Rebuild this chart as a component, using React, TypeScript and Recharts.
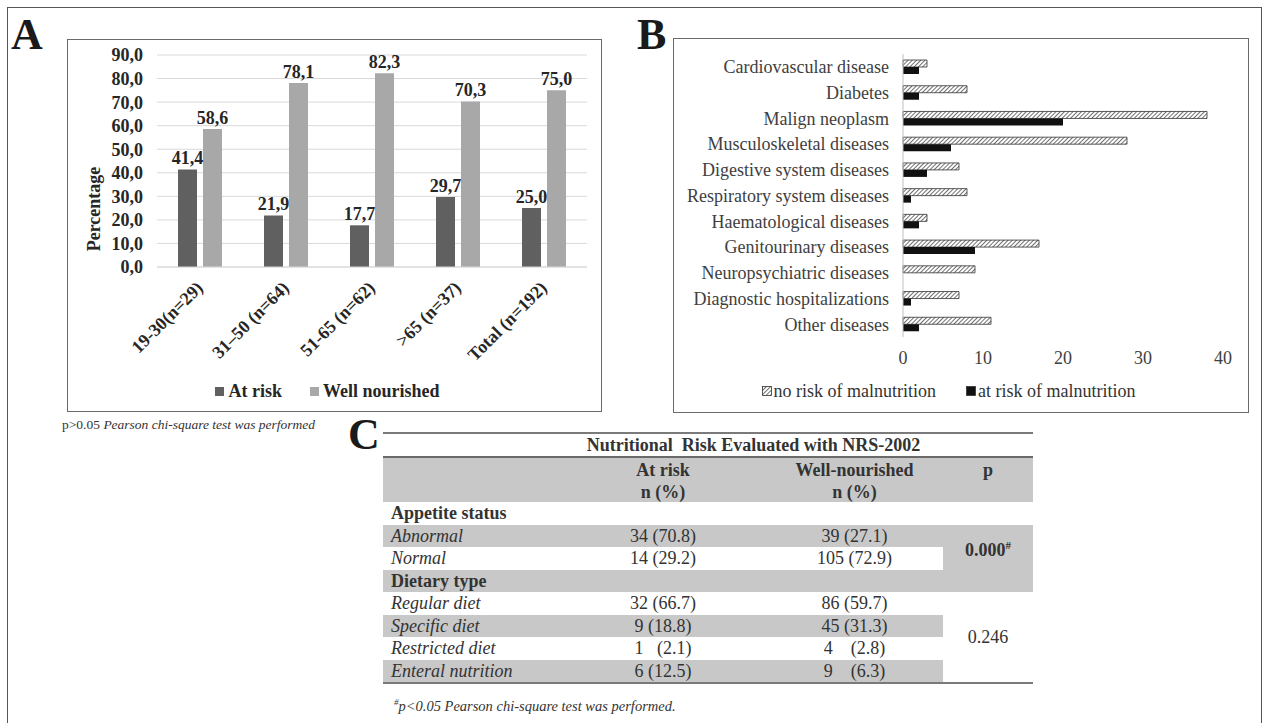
import { BarChart, Bar, XAxis, YAxis, CartesianGrid, Legend, LabelList, Label } from "recharts"

const SERIF = "'Liberation Serif', 'Times New Roman', serif"

// Panel A – nutritional risk by age group (%)
const ageGroups = ["19-30(n=29)", "31–50 (n=64)", "51-65 (n=62)", ">65 (n=37)", "Total (n=192)"]
const atRiskPct = [41.4, 21.9, 17.7, 29.7, 25.0]
const wellNourishedPct = [58.6, 78.1, 82.3, 70.3, 75.0]
const pctTicks = [0, 10, 20, 30, 40, 50, 60, 70, 80, 90]

// Panel B – diagnoses by risk status (n)
const diseases = [
    "Cardiovascular disease",
    "Diabetes",
    "Malign neoplasm",
    "Musculoskeletal diseases",
    "Digestive system diseases",
    "Respiratory system diseases",
    "Haematological diseases",
    "Genitourinary diseases",
    "Neuropsychiatric diseases",
    "Diagnostic hospitalizations",
    "Other diseases",
]
const noRiskCounts = [3, 8, 38, 28, 7, 8, 3, 17, 9, 7, 11]
const atRiskCounts = [2, 2, 20, 6, 3, 1, 2, 9, 0, 1, 2]
const countTicks = [0, 10, 20, 30, 40]
const legendOrderB = ["no risk of malnutrition", "at risk of malnutrition"]

// Panel C – table
const appetiteLabels = ["Abnormal", "Normal"]
const appetiteAtRisk = ["34 (70.8)", "14 (29.2)"]
const appetiteWell = ["39 (27.1)", "105 (72.9)"]
const dietLabels = ["Regular diet", "Specific diet", "Restricted diet", "Enteral nutrition"]
const dietAtRisk = ["32 (66.7)", "9 (18.8)", "1\u00a0\u00a0\u00a0(2.1)", "6 (12.5)"]
const dietWell = ["86 (59.7)", "45 (31.3)", "4\u00a0\u00a0\u00a0\u00a0(2.8)", "9\u00a0\u00a0\u00a0\u00a0(6.3)"]
const pAppetite = "0.000"
const pDiet = "0.246"

const dataA = ageGroups.map((g, i) => ({ group: g, atRisk: atRiskPct[i], well: wellNourishedPct[i] }))
const dataB = diseases.map((d, i) => ({ name: d, noRisk: noRiskCounts[i], atRisk: atRiskCounts[i] }))

const pctFmt = (v: any) => Number(v).toFixed(1).replace(".", ",")

function AgeTick({ x, y, payload }: any) {
    return (
        <g transform={`translate(${x + 4},${y + 22}) rotate(-45)`}>
            <text textAnchor="end" fontFamily={SERIF} fontWeight="bold" fontSize={18} fill="#262626">
                {payload.value}
            </text>
        </g>
    )
}

function LegendA({ payload }: any) {
    return (
        <div style={{ display: "flex", justifyContent: "center", alignItems: "center", gap: 28, height: 22, fontFamily: SERIF, fontWeight: "bold", fontSize: 18, color: "#262626" }}>
            {(payload || []).map((p: any) => (
                <span key={p.value} style={{ display: "flex", alignItems: "center" }}>
                    <span style={{ width: 9, height: 9, background: p.color, marginRight: 4, display: "inline-block" }} />
                    {p.value}
                </span>
            ))}
        </div>
    )
}

function LegendB({ payload }: any) {
    const items = [...(payload || [])].sort((a: any, b: any) => legendOrderB.indexOf(a.value) - legendOrderB.indexOf(b.value))
    return (
        <div style={{ display: "flex", justifyContent: "center", alignItems: "center", gap: 30, height: 22, fontFamily: SERIF, fontSize: 18, color: "#333" }}>
            {items.map((p: any) => (
                <span key={p.value} style={{ display: "flex", alignItems: "center" }}>
                    <svg width={10} height={10} style={{ marginRight: 2 }}>
                        <rect x={0.5} y={0.5} width={9} height={9} fill={p.color} stroke="#333" strokeWidth={0.8} />
                    </svg>
                    {p.value}
                </span>
            ))}
        </div>
    )
}

function PanelA() {
    return (
        <div style={{ position: "absolute", left: 67, top: 39, width: 535, height: 373, border: "1px solid #6a6a6a", boxSizing: "border-box" }}>
            <BarChart width={533} height={371} data={dataA} margin={{ top: 15, right: 14, left: 0, bottom: 9 }} barGap={6} barSize={19}>
                <CartesianGrid vertical={false} stroke="#d9d9d9" />
                <XAxis dataKey="group" height={113} interval={0} tick={<AgeTick />} tickLine={false} tickSize={0} tickMargin={0} axisLine={{ stroke: "#d9d9d9" }} />
                <YAxis
                    width={89}
                    domain={[0, 90]}
                    ticks={pctTicks}
                    interval={0}
                    tickFormatter={pctFmt}
                    axisLine={false}
                    tickLine={false}
                    tickSize={0}
                    tickMargin={14}
                    tick={{ fontFamily: SERIF, fontWeight: "bold", fontSize: 18, fill: "#262626" }}
                >
                    <Label
                        content={({ viewBox }: any) => {
                            const cx = viewBox.x + 26
                            const cy = viewBox.y + viewBox.height / 2 + 48
                            return (
                                <text x={cx} y={cy} transform={`rotate(-90, ${cx}, ${cy})`} textAnchor="middle" dominantBaseline="central" fontFamily={SERIF} fontWeight="bold" fontSize={18} fill="#262626">
                                    Percentage
                                </text>
                            )
                        }}
                    />
                </YAxis>
                <Legend verticalAlign="bottom" content={<LegendA />} />
                <Bar dataKey="atRisk" name="At risk" fill="#606060" isAnimationActive={false}>
                    <LabelList dataKey="atRisk" position="top" formatter={pctFmt} style={{ fontFamily: SERIF, fontWeight: "bold", fontSize: 18, fill: "#262626" }} />
                </Bar>
                <Bar dataKey="well" name="Well nourished" fill="#a8a8a8" isAnimationActive={false}>
                    <LabelList dataKey="well" position="top" formatter={pctFmt} style={{ fontFamily: SERIF, fontWeight: "bold", fontSize: 18, fill: "#262626" }} />
                </Bar>
            </BarChart>
        </div>
    )
}

function PanelB() {
    return (
        <div style={{ position: "absolute", left: 673, top: 38, width: 576, height: 375, border: "1px solid #6a6a6a", boxSizing: "border-box" }}>
            <BarChart layout="vertical" width={574} height={373} data={dataB} margin={{ top: 15, right: 25, left: 0, bottom: 10 }} barGap={0} barSize={7}>
                <defs>
                    <pattern id="hatchB" patternUnits="userSpaceOnUse" width={3} height={3} patternTransform="rotate(45)">
                        <rect width={3} height={3} fill="#ffffff" />
                        <line x1={0} y1={0} x2={0} y2={3} stroke="#222" strokeWidth={1.3} />
                    </pattern>
                </defs>
                <XAxis type="number" domain={[0, 40]} ticks={countTicks} height={43} axisLine={false} tickLine={false} tickSize={0} tickMargin={14} tick={{ fontFamily: SERIF, fontSize: 18, fill: "#404040" }} />
                <YAxis type="category" dataKey="name" width={229} interval={0} axisLine={{ stroke: "#c0c0c0" }} tickLine={false} tickSize={0} tickMargin={14} tick={{ fontFamily: SERIF, fontSize: 18, fill: "#404040" }} />
                <Legend verticalAlign="bottom" content={<LegendB />} />
                <Bar dataKey="noRisk" name="no risk of malnutrition" fill="url(#hatchB)" stroke="#333" strokeWidth={0.8} isAnimationActive={false} />
                <Bar dataKey="atRisk" name="at risk of malnutrition" fill="#111111" isAnimationActive={false} />
            </BarChart>
        </div>
    )
}

const COLS = [383, 560, 766, 943, 1033]
const GRAY = "#c8c8c8"

function Cell({ c0, c1, y, h, gray, children, align = "center", style }: any) {
    return (
        <div
            style={{
                position: "absolute",
                left: COLS[c0],
                width: COLS[c1] - COLS[c0],
                top: y,
                height: h,
                background: gray ? GRAY : "transparent",
                display: "flex",
                alignItems: "center",
                justifyContent: align === "left" ? "flex-start" : "center",
                paddingLeft: align === "left" ? 8 : 0,
                boxSizing: "border-box",
                whiteSpace: "pre",
                ...style,
            }}
        >
            {children}
        </div>
    )
}

function PanelC() {
    const rows: { label: string; a: string; w: string; section: boolean }[] = [
        { label: "Appetite status", a: "", w: "", section: true },
        ...appetiteLabels.map((l, i) => ({ label: l, a: appetiteAtRisk[i], w: appetiteWell[i], section: false })),
        { label: "Dietary type", a: "", w: "", section: true },
        ...dietLabels.map((l, i) => ({ label: l, a: dietAtRisk[i], w: dietWell[i], section: false })),
    ]
    const y0 = 502
    const rh = 22.5
    return (
        <div style={{ position: "absolute", left: 0, top: 0, fontFamily: SERIF, fontSize: 18, color: "#333", lineHeight: "20px" }}>
            <div style={{ position: "absolute", left: 348, top: 413, fontSize: 44, fontWeight: "bold", color: "#1a1a1a", lineHeight: "44px" }}>C</div>
            <div style={{ position: "absolute", left: COLS[0], width: COLS[4] - COLS[0], top: 432, height: 2, background: "#7a7a7a" }} />
            <Cell c0={1} c1={3} y={434} h={22} style={{ fontWeight: "bold", paddingLeft: 4 }}>
                Nutritional  Risk Evaluated with NRS-2002
            </Cell>
            <div style={{ position: "absolute", left: COLS[0], width: COLS[4] - COLS[0], top: 456, height: 2, background: "#6a6a6a" }} />
            <Cell c0={0} c1={4} y={458} h={44} gray />
            <Cell c0={1} c1={2} y={459} h={22} style={{ fontWeight: "bold" }}>At risk</Cell>
            <Cell c0={1} c1={2} y={481} h={22} style={{ fontWeight: "bold" }}>n (%)</Cell>
            <Cell c0={2} c1={3} y={459} h={22} style={{ fontWeight: "bold" }}>Well-nourished</Cell>
            <Cell c0={2} c1={3} y={481} h={22} style={{ fontWeight: "bold" }}>n (%)</Cell>
            <Cell c0={3} c1={4} y={459} h={22} style={{ fontWeight: "bold" }}>p</Cell>
            {rows.map((r, i) => {
                const y = y0 + i * rh
                const gray = i % 2 === 1
                const pGray = i >= 1 && i <= 3
                return (
                    <div key={r.label}>
                        <Cell c0={0} c1={1} y={y} h={rh} gray={gray} align="left" style={r.section ? { fontWeight: "bold" } : { fontStyle: "italic" }}>
                            {r.label}
                        </Cell>
                        <Cell c0={1} c1={2} y={y} h={rh} gray={gray}>{r.a}</Cell>
                        <Cell c0={2} c1={3} y={y} h={rh} gray={gray}>{r.w}</Cell>
                        <Cell c0={3} c1={4} y={y} h={rh} gray={pGray} />
                    </div>
                )
            })}
            <Cell c0={3} c1={4} y={y0 + rh} h={rh * 2} style={{ fontWeight: "bold" }}>
                <span>
                    {pAppetite}
                    <sup style={{ fontSize: 11 }}>#</sup>
                </span>
            </Cell>
            <Cell c0={3} c1={4} y={y0 + rh * 4} h={rh * 4}>{pDiet}</Cell>
            <div style={{ position: "absolute", left: COLS[0], width: COLS[4] - COLS[0], top: 682, height: 2, background: "#7a7a7a" }} />
            <div style={{ position: "absolute", left: 394, top: 692, fontSize: 14.5, fontStyle: "italic", color: "#333", whiteSpace: "nowrap" }}>
                <sup style={{ fontSize: 9 }}>#</sup>p&lt;0.05 Pearson chi-square test was performed.
            </div>
        </div>
    )
}

export default function App() {
    return (
        <div style={{ position: "absolute", left: 0, top: 0, width: 1266, height: 723, background: "#fff", overflow: "hidden", fontFamily: SERIF }}>
            <div style={{ position: "absolute", left: 7, top: 7, width: 1255, height: 760, border: "1px solid #555", boxSizing: "border-box" }} />
            <div style={{ position: "absolute", left: 11, top: 13, fontSize: 44, fontWeight: "bold", color: "#1a1a1a", lineHeight: "44px" }}>A</div>
            <div style={{ position: "absolute", left: 637, top: 13, fontSize: 44, fontWeight: "bold", color: "#1a1a1a", lineHeight: "44px" }}>B</div>
            <PanelA />
            <PanelB />
            <div style={{ position: "absolute", left: 62, top: 417, fontSize: 13.5, color: "#333", whiteSpace: "nowrap" }}>
                p&gt;0.05 <i>Pearson chi-square test was performed</i>
            </div>
            <PanelC />
        </div>
    )
}
